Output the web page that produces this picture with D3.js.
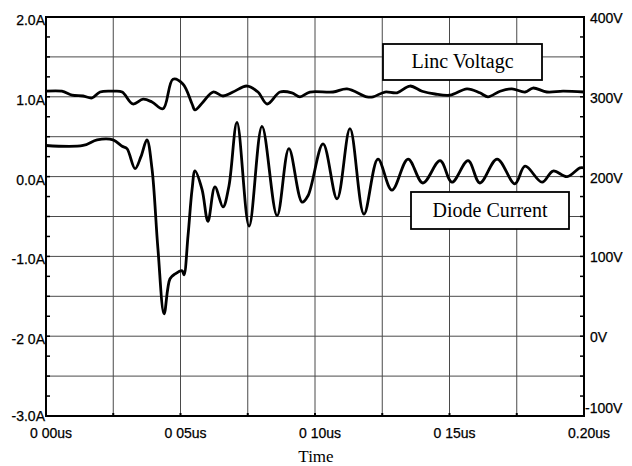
<!DOCTYPE html>
<html lang="en">
<head>
    <meta charset="UTF-8">
    <title>Diode Current</title>
    <style>
        body { margin: 0; background: #fff; }
    </style>
</head>
<body>
<div id="graph"></div>

<script src="https://cdnjs.cloudflare.com/ajax/libs/d3/7.8.5/d3.min.js"></script>

<script>
    // data (time in ns)
    const currentTime = [0, 13.8, 19, 24.9, 28.3, 30.1, 33.1, 35.3, 37.5, 39.4, 41.6, 43.9, 46.1, 48, 50.6, 51.3, 52.8, 54.3, 55.4,
        58, 60.2, 62.8, 65.8, 68, 71, 75.5, 80.3, 85.9, 90.3, 95.2, 97.4, 103, 108.2, 113, 118.2, 123.4, 128.6, 134.6,
        140.1, 146.5, 150.9, 156.9, 161.3, 167.7, 174.3, 178.1, 184.4, 188.5, 193.7, 198.5, 200];
    const currentAmps = [0.39, 0.39, 0.46, 0.46, 0.38, 0.35, 0.10, 0.25, 0.46, 0.10, -0.9, -1.72, -1.28, -1.22, -1.18, -1.23, -0.74, -0.16, 0.07,
        -0.16, -0.56, -0.13, -0.38, -0.12, 0.68, -0.62, 0.63, -0.49, 0.35, -0.32, -0.24, 0.41, -0.28, 0.60, -0.47, 0.22, -0.17, 0.22,
        -0.08, 0.20, -0.07, 0.20, -0.08, 0.22, -0.09, 0.13, -0.07, 0.07, 0.0, 0.11, 0.11];

    const voltageTime = [0, 5.9, 9.7, 13.8, 17.1, 20.1, 24.9, 28.3, 32.3, 36.1, 39.4, 43.5, 47.2, 50.9, 54.3, 55.4, 58.4, 62.1, 65.8,
        69.5, 74.7, 78.8, 82.2, 87, 91.4, 94.4, 98.1, 106.7, 111.9, 119.3, 121.6, 126, 130.5, 135.3, 139.8, 144.6, 150.2,
        156.5, 161.3, 164.3, 168.8, 173.2, 178.1, 181, 186.2, 192.2, 200];
    const voltageVolts = [307, 307, 302, 301, 298.5, 306, 307, 306, 291, 297, 293.5, 285, 322, 316, 291, 283.5, 293.5, 306, 301,
        306, 313.5, 306, 291, 306, 305, 300, 306, 306, 310, 300, 300, 306, 305, 313.5, 307, 303.5, 302,
        310, 305, 300, 307, 310, 306, 311, 306, 307, 306];

    const leftTicks = [2, 1, 0, -1, -2, -3];
    const leftTickLabels = ["2.0A", "1.0A", "0.0A", "-1.0A", "-2 0A", "-3.0A"];
    const rightTicks = [400, 300, 200, 100, 0, -100];
    const rightTickLabels = ["400V", "300V", "200V", "100V", "0V", "-100V"];
    const timeTicks = [0, 50, 100, 150, 200];
    const timeTickLabels = ["0 00us", "0 05us", "0 10us", "0 15us", "0.20us"];
    const legendLabels = ["Linc Voltagc", "Diode Current"];

    //config
    const width = 632, height = 466;
    const plotLeft = 46, plotRight = 584, plotTop = 17, plotBottom = 416;

    const svg = d3.select("#graph").append("svg")
        .attr("width", width)
        .attr("height", height);

    const x = d3.scaleLinear().domain([0, 200]).range([plotLeft, plotRight]);
    const yA = d3.scaleLinear().domain([-3, 2]).range([plotBottom, plotTop]);
    const yV = d3.scaleLinear().domain([-100, 400]).range([plotBottom, plotTop]);

    // grid every 25ns / 0.5A
    svg.append("g")
        .selectAll("line")
        .data(d3.range(25, 200, 25))
        .join("line")
        .attr("x1", d => x(d)).attr("x2", d => x(d))
        .attr("y1", plotTop).attr("y2", plotBottom)
        .style("stroke", "#4a4a4a").style("stroke-width", 1);

    svg.append("g")
        .selectAll("line")
        .data(d3.range(-2.5, 2, 0.5))
        .join("line")
        .attr("x1", plotLeft).attr("x2", plotRight)
        .attr("y1", d => yA(d)).attr("y2", d => yA(d))
        .style("stroke", "#4a4a4a").style("stroke-width", 1);

    // small ticks inside the frame
    const minor = d3.range(-2.75, 2, 0.25);
    svg.append("g").selectAll("line")
        .data(minor)
        .join("line")
        .attr("x1", plotLeft).attr("x2", plotLeft + 4)
        .attr("y1", d => yA(d)).attr("y2", d => yA(d))
        .style("stroke", "#000").style("stroke-width", 1.5);
    svg.append("g").selectAll("line")
        .data(minor)
        .join("line")
        .attr("x1", plotRight - 4).attr("x2", plotRight)
        .attr("y1", d => yA(d)).attr("y2", d => yA(d))
        .style("stroke", "#000").style("stroke-width", 1.5);
    svg.append("g").selectAll("line")
        .data(d3.range(25, 200, 25))
        .join("line")
        .attr("x1", d => x(d)).attr("x2", d => x(d))
        .attr("y1", plotBottom - 3).attr("y2", plotBottom)
        .style("stroke", "#000").style("stroke-width", 2);

    // frame
    svg.append("rect")
        .attr("x", plotLeft).attr("y", plotTop)
        .attr("width", plotRight - plotLeft).attr("height", plotBottom - plotTop)
        .style("fill", "none").style("stroke", "#000").style("stroke-width", 2);

    // traces
    const currentLine = d3.line()
        .x((d, i) => x(currentTime[i]))
        .y(d => yA(d))
        .curve(d3.curveCatmullRom.alpha(0.5));
    const voltageLine = d3.line()
        .x((d, i) => x(voltageTime[i]))
        .y(d => yV(d))
        .curve(d3.curveCatmullRom.alpha(0.5));

    svg.append("path")
        .attr("d", voltageLine(voltageVolts))
        .style("fill", "none").style("stroke", "#000").style("stroke-width", 2.8)
        .style("stroke-linejoin", "round");
    svg.append("path")
        .attr("d", currentLine(currentAmps))
        .style("fill", "none").style("stroke", "#000").style("stroke-width", 2.8)
        .style("stroke-linejoin", "round");

    // legend boxes
    const boxes = [
        {label: legendLabels[0], x0: 383, y0: 44, w: 159, h: 36},
        {label: legendLabels[1], x0: 411, y0: 192, w: 158, h: 37}
    ];
    boxes.forEach(b => {
        svg.append("rect")
            .attr("x", b.x0).attr("y", b.y0)
            .attr("width", b.w).attr("height", b.h)
            .style("fill", "#fff").style("stroke", "#000").style("stroke-width", 1.8);
        svg.append("text")
            .attr("x", b.x0 + b.w / 2)
            .attr("y", b.y0 + b.h / 2 + 6)
            .attr("text-anchor", "middle")
            .attr("font-family", "Liberation Serif, serif")
            .attr("font-size", 20)
            .text(b.label);
    });

    // tick labels
    const tickFont = "Liberation Sans, Arial, sans-serif";
    svg.append("g").selectAll("text")
        .data(leftTicks)
        .join("text")
        .attr("x", plotLeft - 1)
        .attr("y", (d, i) => i === leftTicks.length - 1 ? yA(d) + 5 : yA(d) + 8)
        .attr("text-anchor", "end")
        .attr("font-family", tickFont)
        .attr("font-size", 14)
        .style("stroke", "#000").style("stroke-width", 0.25)
        .text((d, i) => leftTickLabels[i]);

    svg.append("g").selectAll("text")
        .data(rightTicks)
        .join("text")
        .attr("x", (d, i) => i === rightTicks.length - 1 ? plotRight + 1 : plotRight + 6)
        .attr("y", (d, i) => i === rightTicks.length - 1 ? yV(d) - 3 : yV(d) + 6)
        .attr("text-anchor", "start")
        .attr("font-family", tickFont)
        .attr("font-size", 14)
        .style("stroke", "#000").style("stroke-width", 0.25)
        .text((d, i) => rightTickLabels[i]);

    svg.append("g").selectAll("text")
        .data(timeTicks)
        .join("text")
        .attr("x", d => x(d) + 5)
        .attr("y", plotBottom + 22)
        .attr("text-anchor", "middle")
        .attr("font-family", tickFont)
        .attr("font-size", 14)
        .style("stroke", "#000").style("stroke-width", 0.25)
        .text((d, i) => timeTickLabels[i]);

    svg.append("text")
        .attr("x", 316)
        .attr("y", 462)
        .attr("text-anchor", "middle")
        .attr("font-family", "Liberation Serif, serif")
        .attr("font-size", 17)
        .text("Time");
</script>
</body>
</html>
